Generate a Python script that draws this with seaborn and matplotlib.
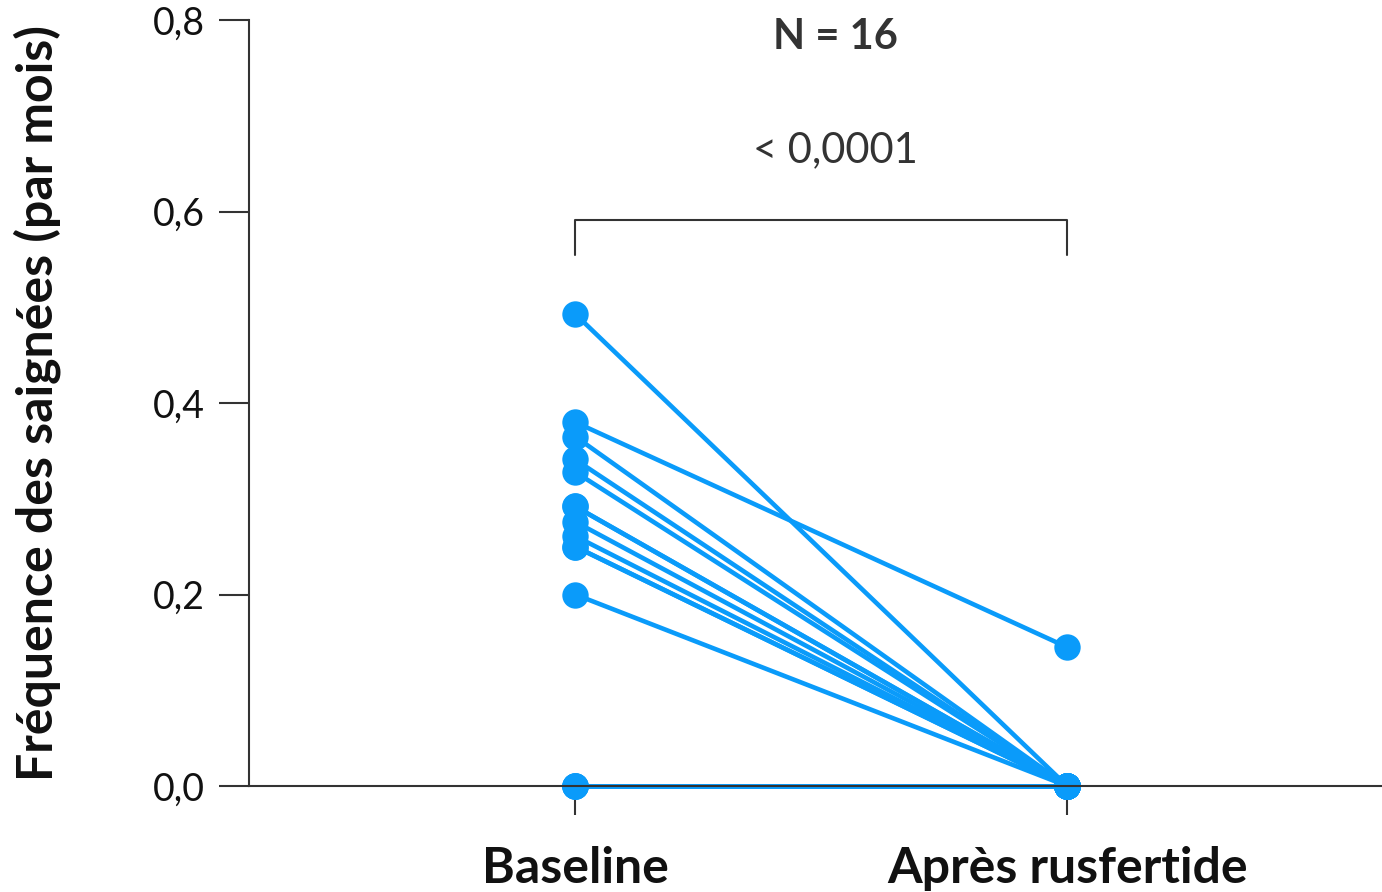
import matplotlib
matplotlib.use("Agg")
import matplotlib.pyplot as plt
import seaborn as sns
import pandas as pd

categories = ["Baseline", "Après rusfertide"]
baseline = [0.493, 0.380, 0.365, 0.341, 0.328, 0.292, 0.292, 0.276,
            0.261, 0.250, 0.250, 0.200, 0.0, 0.0, 0.0, 0.0]
apres = [0.0, 0.145, 0.0, 0.0, 0.0, 0.0, 0.0, 0.0,
         0.0, 0.0, 0.0, 0.0, 0.0, 0.0, 0.0, 0.0]
yticks = [0.0, 0.2, 0.4, 0.6, 0.8]
ytick_labels = ["0,0", "0,2", "0,4", "0,6", "0,8"]
ylabel = "Fréquence des saignées (par mois)"
n_text = "N = 16"
p_text = "< 0,0001"

rows = []
for i, (b, a) in enumerate(zip(baseline, apres)):
    rows.append({"subject": i, "time": categories[0], "value": b})
    rows.append({"subject": i, "time": categories[1], "value": a})
df = pd.DataFrame(rows)

sns.set_theme(style="white")
plt.rcParams["font.family"] = ["Lato", "DejaVu Sans"]

color = "#0A9BFA"
dark = "#333333"

fig = plt.figure(figsize=(13.82, 8.92), dpi=100)
ax = fig.add_axes([249/1382, 106/892, (1382-249)/1382, (786-20)/892])

sns.lineplot(data=df, x="time", y="value", units="subject", estimator=None,
             marker="o", markersize=19, markeredgewidth=0, color=color,
             linewidth=3.3, ax=ax, clip_on=False, legend=False)
for l in ax.lines:
    l.set_clip_on(False)

ax.set_xlim(-0.663, 1.64)
ax.set_ylim(0, 0.8)
ax.set_yticks(yticks)
ax.set_yticklabels(ytick_labels, fontsize=27, color="#111111")
ax.set_xticks([0, 1])
ax.set_xticklabels(categories, fontsize=36, fontweight="bold", color="#111111")
ax.set_xlabel("")
ax.set_ylabel(ylabel, fontsize=36, fontweight="bold", color="#111111", labelpad=66)

for s in ["top", "right"]:
    ax.spines[s].set_visible(False)
for s in ["left", "bottom"]:
    ax.spines[s].set_color(dark)
    ax.spines[s].set_linewidth(1.5)
ax.tick_params(axis="y", direction="out", length=21.5, width=1.5, color=dark, pad=10, left=True)
ax.tick_params(axis="x", direction="out", length=21, width=1.5, color=dark, pad=22, bottom=True)

# significance bracket
by = 0.591
bh = 0.036
ax.plot([0, 0, 1, 1], [by - bh, by, by, by - bh], color=dark, lw=1.5, clip_on=False)
ax.text(0.53, 0.664, p_text, ha="center", va="center", fontsize=30, color=dark)
ax.text(0.53, 0.782, n_text, ha="center", va="center", fontsize=30, fontweight="bold", color=dark)

fig.savefig("out.png", dpi=100)
